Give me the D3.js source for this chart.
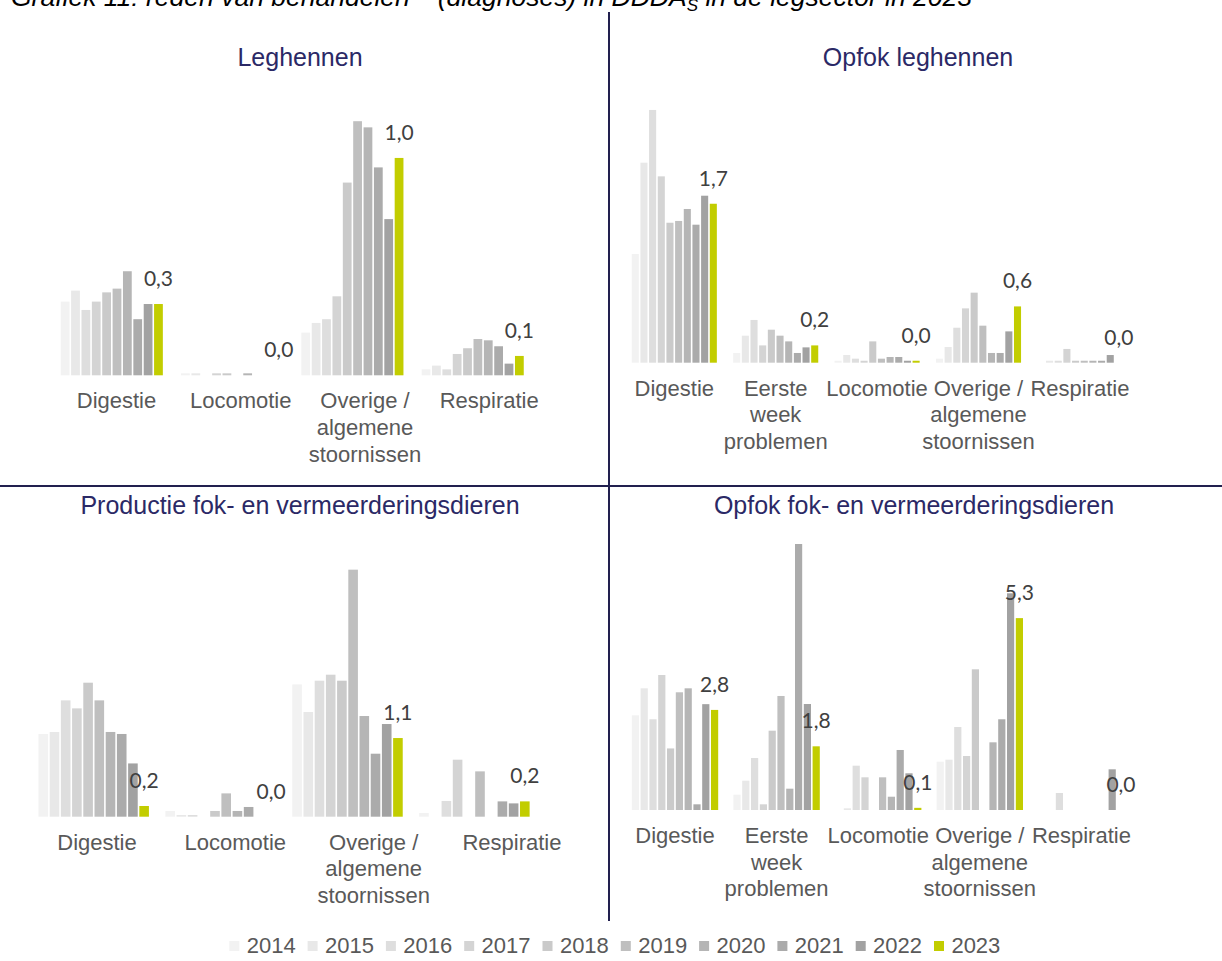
<!DOCTYPE html>
<html>
<head>
<meta charset="utf-8">
<script src="https://cdnjs.cloudflare.com/ajax/libs/d3/7.8.5/d3.min.js"></script>
<style>
    body { margin: 0; background: #ffffff; }
    svg { display: block; }
    text { font-family: "Liberation Sans", Arial, sans-serif; }
</style>
</head>
<body>
<svg id="chart" width="1222" height="961"></svg>
<script>

// Data
var years = ["2014", "2015", "2016", "2017", "2018", "2019", "2020", "2021", "2022", "2023"];

var catsLeft = ["Digestie", "Locomotie", "Overige / algemene stoornissen", "Respiratie"];
var catsRight = ["Digestie", "Eerste week problemen", "Locomotie", "Overige / algemene stoornissen", "Respiratie"];

// category -> lines of the axis label
var catLines = {
    "Digestie": ["Digestie"],
    "Eerste week problemen": ["Eerste", "week", "problemen"],
    "Locomotie": ["Locomotie"],
    "Overige / algemene stoornissen": ["Overige /", "algemene", "stoornissen"],
    "Respiratie": ["Respiratie"]
};

// one row per category, one value per year (2014..2023)
var leghennen = [
    [0.335, 0.385, 0.297, 0.335, 0.377, 0.394, 0.473, 0.255, 0.324, 0.324],
    [0.009, 0.009, 0, 0.009, 0.009, 0, 0.009, 0, 0, 0],
    [0.194, 0.238, 0.255, 0.359, 0.876, 1.155, 1.127, 0.945, 0.71, 0.988],
    [0.027, 0.044, 0.027, 0.097, 0.123, 0.165, 0.159, 0.132, 0.053, 0.088]
];

var opfokLeghennen = [
    [1.163, 2.139, 2.703, 1.993, 1.497, 1.516, 1.644, 1.476, 1.786, 1.70],
    [0.104, 0.289, 0.457, 0.185, 0.353, 0.289, 0.228, 0.104, 0.164, 0.185],
    [0.021, 0.082, 0.043, 0.021, 0.228, 0.043, 0.061, 0.061, 0.021, 0.021],
    [0.043, 0.168, 0.374, 0.581, 0.749, 0.396, 0.104, 0.104, 0.335, 0.602],
    [0, 0.021, 0.021, 0.147, 0.021, 0.021, 0.021, 0.021, 0.082, 0]
];

var productieFok = [
    [1.199, 1.228, 1.686, 1.570, 1.942, 1.686, 1.228, 1.199, 0.772, 0.155],
    [0.083, 0.025, 0.025, 0, 0.083, 0.338, 0.083, 0.141, 0, 0],
    [1.917, 1.517, 1.971, 2.058, 1.971, 3.580, 1.459, 0.913, 1.343, 1.14],
    [0.054, 0, 0.228, 0.826, 0, 0.657, 0, 0.222, 0.193, 0.222]
];

var opfokFok = [
    [2.63, 3.38, 2.52, 3.75, 1.71, 3.27, 3.38, 0.158, 2.94, 2.78],
    [0.425, 0.814, 1.444, 0.158, 2.203, 3.167, 0.592, 7.389, 2.944, 1.769],
    [0, 0.047, 1.231, 0.908, 0, 0.908, 0.369, 1.667, 1.019, 0.06],
    [1.342, 1.397, 2.306, 1.5, 3.908, 0, 1.88, 2.52, 6.02, 5.33],
    [0, 0, 0.472, 0, 0, 0, 0, 0, 1.13, 0]
];

var yearColors = ["#f2f2f2", "#e8e8e8", "#dedede", "#d4d4d4", "#cacaca",
                  "#bfbfbf", "#b5b5b5", "#ababab", "#a2a2a2", "#c2cd00"];

var color = d3.scaleOrdinal().domain(years).range(yearColors);
var fmt = function(v) { return d3.format(".1f")(v).replace(".", ","); };

function barPanel() {

    // Data Model
    var title = "";
    var cats = [];
    var values = [];

    // Dimensions
    var xRange, labelRange, pad;
    var yBase, yTop, yMax;
    var titleX, titleY;

    function chart(selection) {

        selection.each(function() {

            var g = d3.select(this);

            var x = d3.scaleBand()
                .domain(cats)
                .range(xRange)
                .paddingInner(pad)
                .paddingOuter(pad / 2);

            var x1 = d3.scaleBand()
                .domain(years)
                .range([0, x.bandwidth()]);

            var y = d3.scaleLinear()
                .domain([0, yMax])
                .range([yBase, yTop]);

            // label positions of the categories
            var xl = d3.scaleBand()
                .domain(cats)
                .range(labelRange);

            g.append("text")
                .attr("class", "panel-title")
                .attr("x", titleX)
                .attr("y", titleY)
                .attr("text-anchor", "middle")
                .style("font-size", "25px")
                .style("fill", "#2b2966")
                .text(title);

            var groups = g.selectAll("g.cat")
                .data(cats)
                .enter()
                .append("g")
                .attr("class", "cat")
                .attr("transform", function(d) { return "translate(" + x(d) + ",0)"; });

            groups.selectAll("rect")
                .data(function(d, i) {
                    return years.map(function(yr, j) { return { year: yr, value: values[i][j] }; });
                })
                .enter()
                .append("rect")
                .filter(function(d) { return d.value > 0; })
                .attr("x", function(d) { return x1(d.year) + 0.8; })
                .attr("width", x1.bandwidth() - 1.6)
                .attr("y", function(d) { return y(d.value); })
                .attr("height", function(d) { return y(0) - y(d.value); })
                .attr("fill", function(d) { return color(d.year); });

            // Value label, only for the last year
            var last = years[years.length - 1];
            groups.append("text")
                .attr("class", "value")
                .attr("x", x1(last) + x1.bandwidth() / 2)
                .attr("y", function(d, i) { return y(values[i][years.length - 1]) - 18; })
                .attr("text-anchor", "middle")
                .style("font-family", "Lato, 'Open Sans', sans-serif")
                .style("font-size", "21px")
                .style("fill", "#404040")
                .text(function(d, i) { return fmt(values[i][years.length - 1]); });

            // Category labels
            var labels = g.selectAll("text.cat-label")
                .data(cats)
                .enter()
                .append("text")
                .attr("class", "cat-label")
                .attr("text-anchor", "middle")
                .attr("y", yBase + 33)
                .style("font-size", "22px")
                .style("fill", "#595959");

            labels.selectAll("tspan")
                .data(function(d) { return catLines[d]; })
                .enter()
                .append("tspan")
                .attr("x", function() { var c = d3.select(this.parentNode).datum(); return xl(c) + xl.bandwidth() / 2; })
                .attr("dy", function(d, i) { return i === 0 ? 0 : 26.6; })
                .text(function(d) { return d; });
        });
    }

    chart.title = function(v) { title = v; return chart; };
    chart.cats = function(v) { cats = v; return chart; };
    chart.values = function(v) { values = v; return chart; };
    chart.xRange = function(v) { xRange = v; return chart; };
    chart.labelRange = function(v) { labelRange = v; return chart; };
    chart.pad = function(v) { pad = v; return chart; };
    chart.yBase = function(v) { yBase = v; return chart; };
    chart.yTop = function(v) { yTop = v; return chart; };
    chart.yMax = function(v) { yMax = v; return chart; };
    chart.titlePos = function(a, b) { titleX = a; titleY = b; return chart; };

    return chart;
}

var svg = d3.select("#chart");

// Title of the figure (cut off at the top in the original)
var head = svg.append("text")
    .attr("x", 11)
    .attr("y", 6)
    .style("font-size", "26.5px")
    .style("font-style", "italic")
    .style("fill", "#000000");
head.append("tspan").text("Grafiek 11: reden van behandelen** (diagnoses) in DDDA");
head.append("tspan").attr("dy", 5).style("font-size", "17px").text("S");
head.append("tspan").attr("dy", -5).text(" in de legsector in 2023");

// Divider lines
svg.append("line")
    .attr("x1", 609).attr("x2", 609)
    .attr("y1", 12).attr("y2", 921)
    .attr("stroke", "#22204f")
    .attr("stroke-width", 2);

svg.append("line")
    .attr("x1", 0).attr("x2", 1222)
    .attr("y1", 486).attr("y2", 486)
    .attr("stroke", "#22204f")
    .attr("stroke-width", 2);

svg.append("g")
    .call(barPanel()
        .title("Leghennen").titlePos(300, 66)
        .cats(catsLeft).values(leghennen)
        .xRange([51.65, 532.85]).pad(0.138)
        .labelRange([54.4, 551.3])
        .yBase(375.3).yMax(1.2).yTop(375.3 - 1.2 * 220));

svg.append("g")
    .call(barPanel()
        .title("Opfok leghennen").titlePos(918, 66)
        .cats(catsRight).values(opfokLeghennen)
        .xRange([623.6, 1130.6]).pad(0.145)
        .labelRange([623.6, 1130.6])
        .yBase(362.7).yMax(3).yTop(362.7 - 3 * 93.5));

svg.append("g")
    .call(barPanel()
        .title("Productie fok- en vermeerderingsdieren").titlePos(300, 514)
        .cats(catsLeft).values(productieFok)
        .xRange([30.25, 537.85]).pad(0.117)
        .labelRange([27.85, 581.15])
        .yBase(816.7).yMax(4).yTop(816.7 - 4 * 69));

svg.append("g")
    .call(barPanel()
        .title("Opfok fok- en vermeerderingsdieren").titlePos(914, 514)
        .cats(catsRight).values(opfokFok)
        .xRange([624.2, 1132.2]).pad(0.134)
        .labelRange([624.2, 1132.2])
        .yBase(810).yMax(8).yTop(810 - 8 * 36));

// Legend
var lx = d3.scaleBand()
    .domain(years)
    .range([229.3, 229.3 + 78.3 * years.length]);

var legend = svg.append("g")
    .attr("class", "legend")
    .selectAll("g")
    .data(years)
    .enter()
    .append("g")
    .attr("transform", function(d) { return "translate(" + lx(d) + ",941)"; });

legend.append("rect")
    .attr("width", 10)
    .attr("height", 10)
    .attr("fill", function(d) { return color(d); });

legend.append("text")
    .attr("x", 17.4)
    .attr("y", 12)
    .style("font-size", "22px")
    .style("fill", "#595959")
    .text(function(d) { return d; });

</script>
</body>
</html>
